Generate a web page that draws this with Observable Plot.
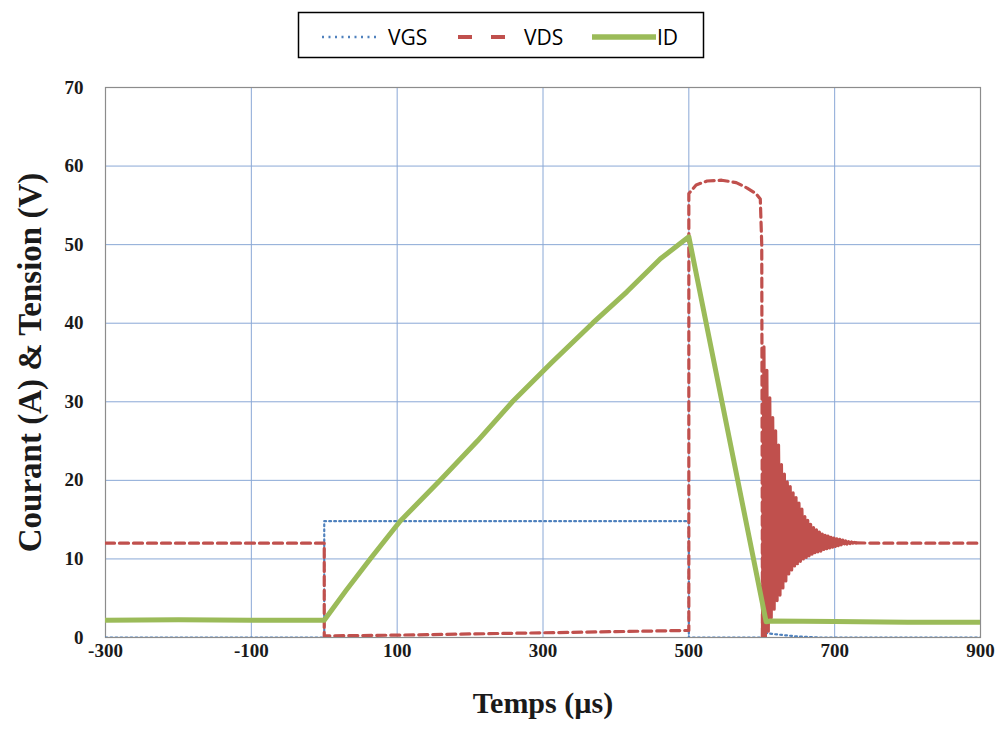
<!DOCTYPE html>
<html><head><meta charset="utf-8">
<script src="https://cdn.jsdelivr.net/npm/d3@7"></script>
<script src="https://cdn.jsdelivr.net/npm/@observablehq/plot@0.6"></script>
<style>body{margin:0;background:#fff;} #wrap{width:1001px;}</style>
</head><body><div id="wrap">
<svg id="legend" width="1001" height="70" style="display:block">
  <rect x="298.5" y="12.5" width="405" height="45" fill="#fff" stroke="#000" stroke-width="1.5"/>
  <line x1="322" x2="376" y1="37" y2="37" stroke="#4f81bd" stroke-width="2.5" stroke-dasharray="2,4.5"/>
  <text x="388" y="45" font-family="Open Sans, Liberation Sans, sans-serif" font-size="21">VGS</text>
  <line x1="458" x2="506" y1="37" y2="37" stroke="#c0504d" stroke-width="4" stroke-dasharray="14,19"/>
  <text x="524" y="45" font-family="Open Sans, Liberation Sans, sans-serif" font-size="21">VDS</text>
  <line x1="592" x2="656" y1="37" y2="37" stroke="#9bbb59" stroke-width="5.5"/>
  <text x="657" y="45" font-family="Open Sans, Liberation Sans, sans-serif" font-size="21">ID</text>
</svg>
<div id="chart"></div>
</div>
<script>
// Tick labels
const xTicks = [-300, -100, 100, 300, 500, 700, 900];
const yTicks = [0, 10, 20, 30, 40, 50, 60, 70];
const xGrid = [-100, 100, 300, 500, 700];

// VGS (V)
const vgsT = [-300, 0, 0, 500, 500, 600, 604, 615, 630, 650, 680, 900];
const vgsV = [0, 0, 14.8, 14.8, 0, 0, 0.6, 0.45, 0.3, 0.12, 0, 0];

// VDS (V) main trace up to turn-off
const vdsT = [-300, 0, 0, 100, 200, 300, 400, 500, 500, 510, 525, 545, 565, 580, 592, 598, 600, 601];
const vdsV = [12, 12, 0.2, 0.3, 0.45, 0.6, 0.75, 0.9, 56.5, 57.6, 58.1, 58.2, 57.9, 57.2, 56.5, 55.8, 50, 0];
// VDS ringing after turn-off (peaks and troughs)
const ringT = [601, 603, 605, 607, 609, 611, 613, 615, 617, 619, 621, 623, 625, 627, 629, 631, 633, 635, 637, 639,
  641, 643, 645, 647, 649, 651, 653, 655, 657, 659, 661, 663, 665, 667, 669, 671, 673, 675, 677, 679,
  681, 683, 685, 687, 689, 691, 693, 695, 697, 699, 701, 703, 705, 707, 709, 711, 713, 715, 717, 719,
  721, 723, 725, 727, 729];
const ringV = [0, 37, 0.1, 34, 0.8, 30.5, 2.5, 28, 3.6, 26.3, 4.6, 24.5, 5.4, 22, 6.3, 20.8, 7.2, 19.8, 8.1, 19.2,
  8.6, 18.4, 9.1, 17.8, 9.4, 17.1, 9.7, 16.4, 10.0, 15.5, 10.2, 14.9, 10.4, 14.4, 10.6, 14.0, 10.8, 13.7, 10.9, 13.4,
  11.0, 13.2, 11.2, 13.0, 11.3, 12.9, 11.4, 12.75, 11.5, 12.65, 11.6, 12.55, 11.7, 12.5, 11.8, 12.4, 11.85, 12.3, 11.9, 12.2,
  11.95, 12.15, 12.0, 12.1, 12.05];
// VDS settled tail
const tailT = [729, 760, 800, 900];
const tailV = [12.05, 12, 12, 12];

// ID (A)
const idT = [-300, -200, -100, 0, 30, 63, 104, 159, 210, 258, 312, 368, 415, 461, 500, 606, 612, 700, 800, 900];
const idV = [2.2, 2.25, 2.2, 2.2, 6.0, 10.0, 14.8, 20.0, 25.0, 30.0, 35.0, 40.0, 44.0, 48.2, 51.0, 2.0, 2.1, 2.05, 1.95, 1.95];

const rows = (T, V) => T.map((t, i) => ({t, v: V[i]}));
const vgs = rows(vgsT, vgsV);
const vds = rows(vdsT, vdsV);
const ring = rows(ringT, ringV);
const tail = rows(tailT, tailV);
const id = rows(idT, idV);

const chart = Plot.plot({
  width: 1001,
  height: 674,
  marginTop: 17,
  marginLeft: 105,
  marginRight: 21,
  marginBottom: 107,
  style: {fontFamily: "Liberation Serif, serif", fontSize: "19px", fontWeight: "bold", color: "#1a1a1a", background: "#fff"},
  x: {domain: [-300, 900], label: null},
  y: {domain: [0, 70], label: null},
  marks: [
    Plot.gridX(xGrid, {stroke: "#8aa8d6", strokeOpacity: 1, strokeWidth: 1}),
    Plot.gridY(yTicks, {stroke: "#8aa8d6", strokeOpacity: 1, strokeWidth: 1}),
    Plot.frame({stroke: "#8c8c8c", strokeWidth: 1.2}),
    Plot.axisX(xTicks, {tickSize: 0, tickPadding: 6, tickFormat: d => String(d)}),
    Plot.axisY(yTicks, {tickSize: 0, tickPadding: 22, tickFormat: d => String(d)}),
    Plot.line(vgs, {x: "t", y: "v", stroke: "#4f81bd", strokeWidth: 2.2, strokeDasharray: "1.8,3.2", clip: true}),
    Plot.line(vds, {x: "t", y: "v", stroke: "#c0504d", strokeWidth: 3.2, strokeDasharray: "9,5", clip: true}),
    Plot.line(ring, {x: "t", y: "v", stroke: "#c0504d", strokeWidth: 3.2, strokeDasharray: "45,2", clip: true}),
    Plot.line(tail, {x: "t", y: "v", stroke: "#c0504d", strokeWidth: 3.2, strokeDasharray: "9,5", clip: true}),
    Plot.line(id, {x: "t", y: "v", stroke: "#9bbb59", strokeWidth: 5, clip: true}),
    Plot.text(["Temps (µs)"], {frameAnchor: "bottom", dy: 75, fontSize: 30, fontWeight: "bold", fill: "#1a1a1a"}),
    Plot.text(["Courant (A) & Tension (V)"], {frameAnchor: "left", textAnchor: "middle", dx: -75, rotate: -90, fontSize: 33, fontWeight: "bold", fill: "#1a1a1a"})
  ]
});
document.getElementById("chart").appendChild(chart);
</script>
</body></html>
